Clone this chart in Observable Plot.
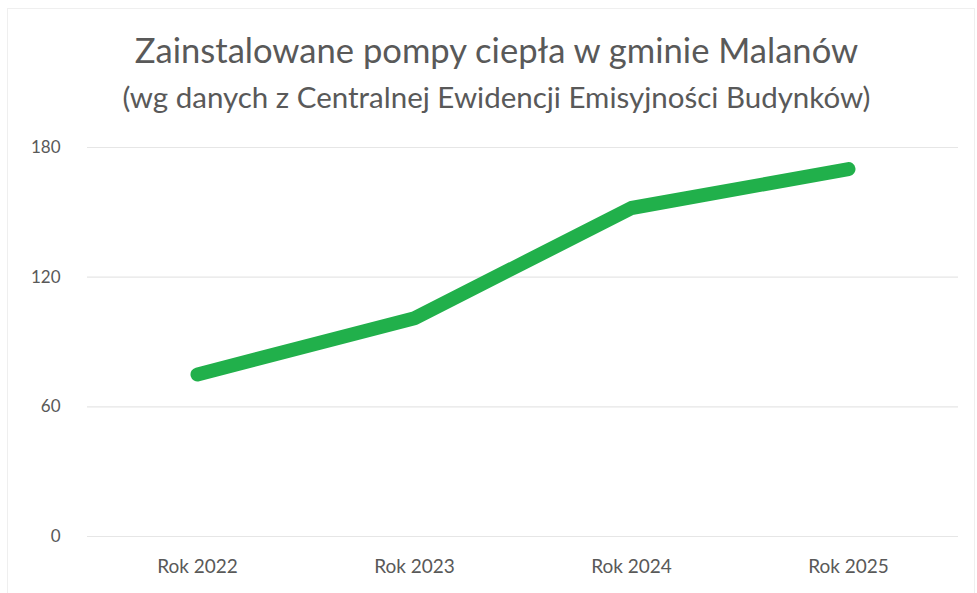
<!DOCTYPE html>
<html>
<head>
<meta charset="utf-8">
<script src="https://cdn.jsdelivr.net/npm/d3@7"></script>
<script src="https://cdn.jsdelivr.net/npm/@observablehq/plot@0.6"></script>
<style>
  html, body { margin: 0; padding: 0; background: #fff; }
  #wrap { position: relative; width: 977px; height: 593px; overflow: hidden; font-family: Lato, "Open Sans", sans-serif; }
  #frame { position: absolute; left: 7px; top: 8px; width: 968px; height: 590px; border: 1px solid #efefef; box-sizing: border-box; }
  #head { position: relative; height: 130px; text-align: center; color: #595959; }
  #title { position: absolute; left: 16px; right: 0; top: 30px; font-size: 34.6px; line-height: 40px; }
  #subtitle { position: absolute; left: 16px; right: 0; top: 80px; font-size: 29.5px; line-height: 34px; }
  #chart { position: relative; }
</style>
</head>
<body>
<div id="wrap">
  <div id="frame"></div>
  <div id="head">
    <div id="title">Zainstalowane pompy ciepła w gminie Malanów</div>
    <div id="subtitle">(wg danych z Centralnej Ewidencji Emisyjności Budynków)</div>
  </div>
  <div id="chart"></div>
</div>
<script>
const years = ["Rok 2022", "Rok 2023", "Rok 2024", "Rok 2025"];
const pumps = [75, 101, 152, 170];
const yTicks = [0, 60, 120, 180];

const data = years.map((y, i) => ({year: y, value: pumps[i]}));

const chart = Plot.plot({
  width: 977,
  height: 463,
  marginLeft: 87,
  marginRight: 19,
  marginTop: 17,
  marginBottom: 57,
  style: { fontFamily: "Lato, 'Open Sans', sans-serif", fontSize: "17px", color: "#595959", background: "transparent" },
  x: { type: "point", domain: years, padding: 0.5, label: null },
  y: { domain: [0, 180], label: null },
  marks: [
    Plot.ruleY(yTicks, { stroke: "#e6e6e6", strokeWidth: 1.2 }),
    Plot.axisY({ ticks: yTicks, tickSize: 0, tickPadding: 27, label: null, fill: "#595959" }),
    Plot.axisX({ tickSize: 0, tickPadding: 23, label: null, fill: "#595959", fontSize: 19 }),
    Plot.line(data, { x: "year", y: "value", stroke: "#21b04b", strokeWidth: 14, strokeLinecap: "round", strokeLinejoin: "round" })
  ]
});
document.getElementById("chart").appendChild(chart);
</script>
</body>
</html>
